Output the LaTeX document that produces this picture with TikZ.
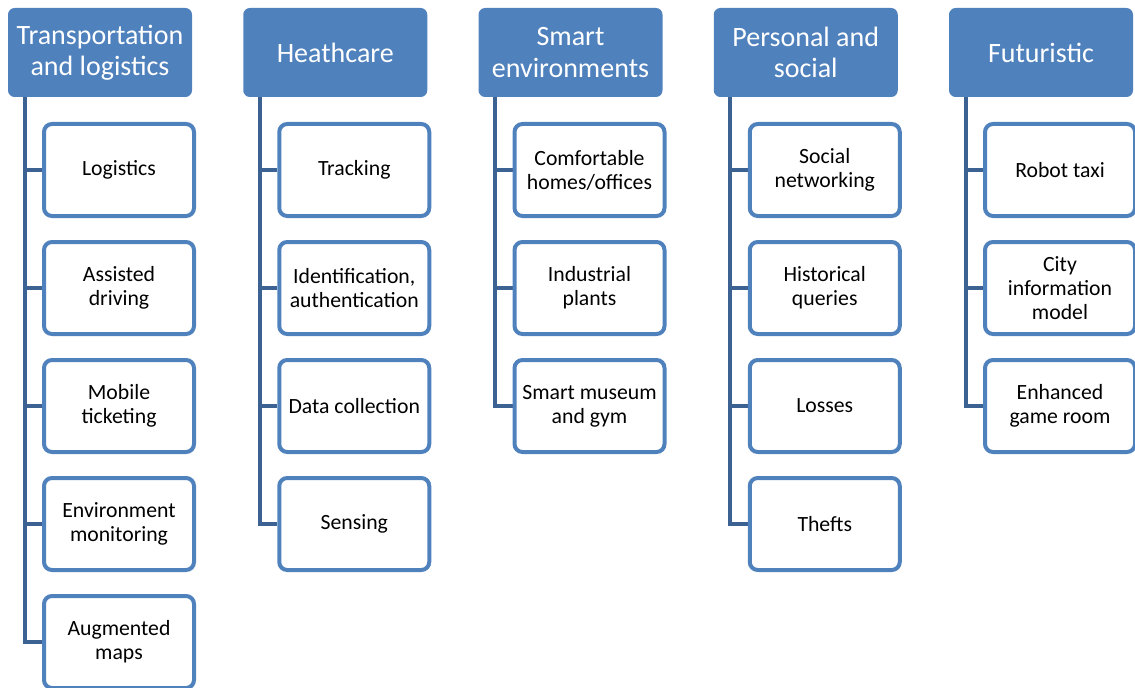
\documentclass[tikz,border=0pt]{standalone}
\usepackage{fontspec}
\setmainfont{Carlito}
\usepackage{tikz}
\usetikzlibrary{backgrounds}
\definecolor{headblue}{RGB}{79,129,189}
\definecolor{linkblue}{RGB}{60,98,148}

\begin{document}
\begin{tikzpicture}[x=0.75pt, y=-0.75pt,
  head/.style={rounded corners=5pt, fill=headblue, text=white, inner sep=0pt,
    minimum width=138pt, minimum height=66.75pt, align=center,
    font=\fontsize{21}{23.3}\selectfont},
  item/.style={rounded corners=6pt, draw=headblue, line width=3pt, fill=white,
    inner sep=0pt, minimum width=112.5pt, minimum height=69pt, align=center,
    font=\fontsize{16.3}{18}\selectfont},
  link/.style={draw=linkblue, line width=3pt}]
  \useasboundingbox (0,0) rectangle (1135,688);
  \clip (0,0) rectangle (1135,688);

  % Column 1: Transportation and logistics
  \node[head] (h1) at (100, 52.5) {Transportation\\and logistics};
  \node[item] (c11) at (119, 170) {Logistics};
  \node[item] (c12) at (119, 288) {Assisted\\driving};
  \node[item] (c13) at (119, 406) {Mobile\\ticketing};
  \node[item] (c14) at (119, 524) {Environment\\monitoring};
  \node[item] (c15) at (119, 642) {Augmented\\maps};

  % Column 2: Heathcare
  \node[head] (h2) at (335.25, 52.5) {Heathcare};
  \node[item] (c21) at (354.25, 170) {Tracking};
  \node[item] (c22) at (354.25, 288) {Identification,\\authentication};
  \node[item] (c23) at (354.25, 406) {Data collection};
  \node[item] (c24) at (354.25, 524) {Sensing};

  % Column 3: Smart environments
  \node[head] (h3) at (570.5, 52.5) {Smart\\environments};
  \node[item] (c31) at (589.5, 170) {Comfortable\\homes/offices};
  \node[item] (c32) at (589.5, 288) {Industrial\\plants};
  \node[item] (c33) at (589.5, 406) {Smart museum\\and gym};

  % Column 4: Personal and social
  \node[head] (h4) at (805.75, 52.5) {Personal and\\social};
  \node[item] (c41) at (824.75, 170) {Social\\networking};
  \node[item] (c42) at (824.75, 288) {Historical\\queries};
  \node[item] (c43) at (824.75, 406) {Losses};
  \node[item] (c44) at (824.75, 524) {Thefts};

  % Column 5: Futuristic
  \node[head] (h5) at (1041, 52.5) {Futuristic};
  \node[item] (c51) at (1060, 170) {Robot taxi};
  \node[item] (c52) at (1060, 288) {City\\information\\model};
  \node[item] (c53) at (1060, 406) {Enhanced\\game room};

  % Connectors
  \begin{scope}[on background layer]
    \foreach \c in {c11,c12,c13,c14,c15}
      \draw[link] (h1.south west) ++(17,0) |- (\c.west);
    \foreach \c in {c21,c22,c23,c24}
      \draw[link] (h2.south west) ++(17,0) |- (\c.west);
    \foreach \c in {c31,c32,c33}
      \draw[link] (h3.south west) ++(17,0) |- (\c.west);
    \foreach \c in {c41,c42,c43,c44}
      \draw[link] (h4.south west) ++(17,0) |- (\c.west);
    \foreach \c in {c51,c52,c53}
      \draw[link] (h5.south west) ++(17,0) |- (\c.west);
  \end{scope}
\end{tikzpicture}
\end{document}
